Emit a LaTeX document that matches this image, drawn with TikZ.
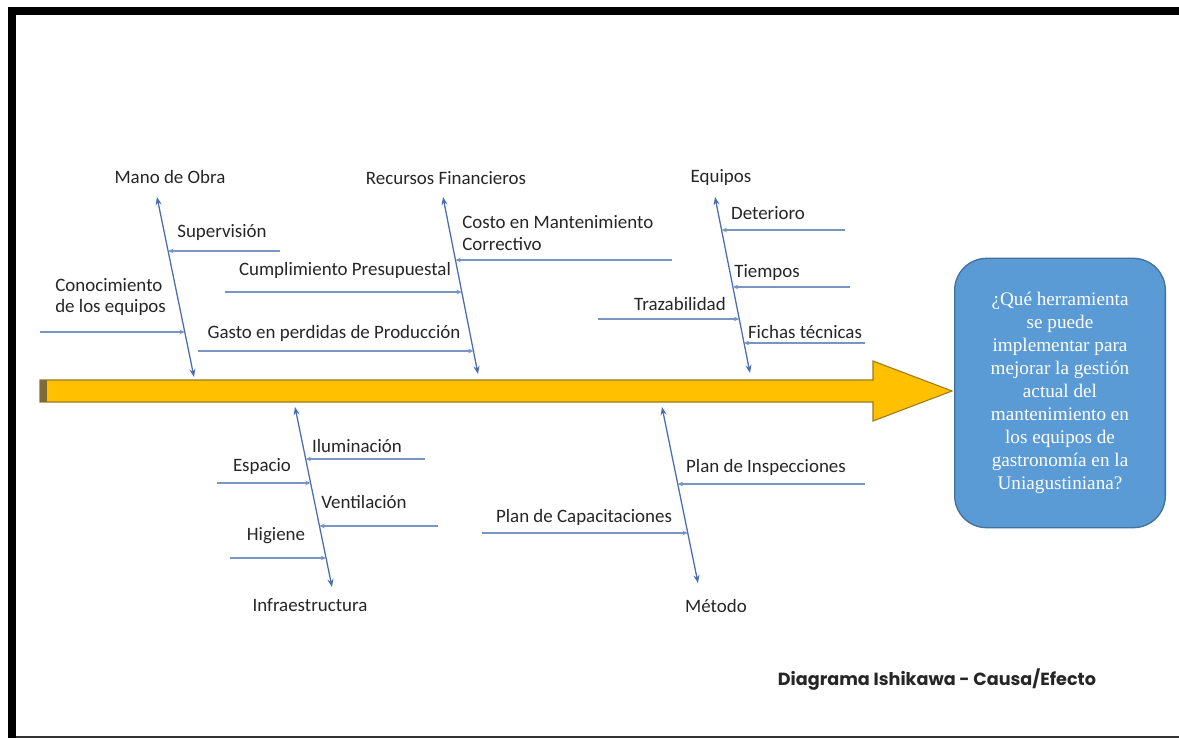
\documentclass[tikz,border=0pt]{standalone}
\usepackage{fontspec}
\setmainfont{Carlito}
\newfontfamily\boxfont{Liberation Serif}
\newfontfamily\titlefont{Poppins}
\usetikzlibrary{arrows.meta,calc}

\definecolor{spinefill}{HTML}{FFC000}
\definecolor{spineedge}{HTML}{9C7A1C}
\definecolor{spinecap}{HTML}{7E6B36}
\definecolor{bonecol}{HTML}{4A6CB0}
\definecolor{subcol}{HTML}{7895C4}
\definecolor{txtcol}{HTML}{262626}
\definecolor{qfill}{HTML}{5B9BD5}
\definecolor{qedge}{HTML}{41719C}

\tikzset{
  lbl/.style={font=\fontsize{14.2}{16}\selectfont, text=txtcol, inner sep=0pt},
  bone/.style={draw=bonecol, line width=0.95pt,
    {Stealth[length=6pt,width=4.5pt]}-{Stealth[length=6pt,width=4.5pt]}},
  sub/.style={draw=subcol, line width=0.8pt, -{Stealth[length=4pt,width=3.5pt]}},
}

\begin{document}
\begin{tikzpicture}[x=0.75pt,y=-0.75pt]
\useasboundingbox (0,0) rectangle (1179,738);
\fill[white] (0,0) rectangle (1179,738);

% frame
\fill[black] (8,7) rectangle (1179,15);
\fill[black] (8,7) rectangle (16,738);
\fill[black!80] (16,735.5) rectangle (1179,738);

% spine arrow
\filldraw[fill=spinefill, draw=spineedge, line width=0.8pt]
  (40,380) -- (873,380) -- (873,361) -- (952,391) -- (873,421) -- (873,402) -- (40,402) -- cycle;
\fill[spinecap] (40,380.4) rectangle (47,401.6);

% effect box
\node[draw=qedge, line width=1pt, fill=qfill, rounded corners=24pt,
      minimum width=158pt, minimum height=202pt, inner sep=0pt,
      text=white, align=center,
      font=\boxfont\fontsize{14.4}{17.25}\selectfont] (effect) at (1060,393)
  {¿Qué herramienta\\se puede\\implementar para\\mejorar la gestión\\actual del\\mantenimiento en\\los equipos de\\gastronomía en la\\Uniagustiniana?};

% main bones
\coordinate (mTop) at (157,197); \coordinate (mBot) at (194,377);
\coordinate (rTop) at (443,197); \coordinate (rBot) at (478,374);
\coordinate (eTop) at (715,197); \coordinate (eBot) at (750,373);
\coordinate (iTop) at (295,407); \coordinate (iBot) at (332,587);
\coordinate (dTop) at (662,407); \coordinate (dBot) at (698,583);

\draw[bone] (mTop) -- (mBot);
\draw[bone] (rTop) -- (rBot);
\draw[bone] (eTop) -- (eBot);
\draw[bone] (iTop) -- (iBot);
\draw[bone] (dTop) -- (dBot);

% category labels
\node[lbl] (manoObra) at (170,177) {Mano de Obra};
\node[lbl] (recursos) at (446,178) {Recursos Financieros};
\node[lbl] (equipos) at (721,178) {Equipos};
\node[lbl] (infra) at (310,605) {Infraestructura};
\node[lbl] (metodo) at (716,606) {Método};

% Mano de Obra
\coordinate (supA) at (280,251); \coordinate (supB) at (168.1,251);
\draw[sub] (supA) -- (supB);
\node[lbl] (supL) at (222,233) {Supervisión};
\coordinate (conA) at (40,332); \coordinate (conB) at (184.8,332);
\draw[sub] (conA) -- (conB);
\node[lbl, align=left, anchor=west] (conL) at (55,297) {Conocimiento\\de los equipos};

% Recursos Financieros
\coordinate (cosA) at (672,260); \coordinate (cosB) at (455.5,260);
\draw[sub] (cosA) -- (cosB);
\node[lbl, align=left, anchor=west] (cosL) at (462,233) {Costo en Mantenimiento\\Correctivo};
\coordinate (cumA) at (225,292); \coordinate (cumB) at (461.8,292);
\draw[sub] (cumA) -- (cumB);
\node[lbl] (cumL) at (345,270) {Cumplimiento Presupuestal};
\coordinate (gasA) at (198,351); \coordinate (gasB) at (473.4,351);
\draw[sub] (gasA) -- (gasB);
\node[lbl] (gasL) at (334,333) {Gasto en perdidas de Producción};

% Equipos
\coordinate (detA) at (845,230); \coordinate (detB) at (721.6,230);
\draw[sub] (detA) -- (detB);
\node[lbl] (detL) at (768,213) {Deterioro};
\coordinate (tieA) at (850,287); \coordinate (tieB) at (732.9,287);
\draw[sub] (tieA) -- (tieB);
\node[lbl] (tieL) at (767,273) {Tiempos};
\coordinate (traA) at (598,319); \coordinate (traB) at (739.3,319);
\draw[sub] (traA) -- (traB);
\node[lbl] (traL) at (680,304) {Trazabilidad};
\coordinate (ficA) at (865,343); \coordinate (ficB) at (744.0,343);
\draw[sub] (ficA) -- (ficB);
\node[lbl] (ficL) at (805,332) {Fichas técnicas};

% Infraestructura
\coordinate (iluA) at (425,459); \coordinate (iluB) at (305.7,459);
\draw[sub] (iluA) -- (iluB);
\node[lbl] (iluL) at (357,446) {Iluminación};
\coordinate (espA) at (217,483); \coordinate (espB) at (310.6,483);
\draw[sub] (espA) -- (espB);
\node[lbl] (espL) at (262,467) {Espacio};
\coordinate (venA) at (438,526); \coordinate (venB) at (319.5,526);
\draw[sub] (venA) -- (venB);
\node[lbl] (venL) at (364,502) {Ventilación};
\coordinate (higA) at (230,558); \coordinate (higB) at (326.0,558);
\draw[sub] (higA) -- (higB);
\node[lbl] (higL) at (276,536) {Higiene};

% Método
\coordinate (insA) at (865,484); \coordinate (insB) at (677.7,484);
\draw[sub] (insA) -- (insB);
\node[lbl] (insL) at (766,467) {Plan de Inspecciones};
\coordinate (capA) at (482,533); \coordinate (capB) at (687.8,533);
\draw[sub] (capA) -- (capB);
\node[lbl] (capL) at (584,517) {Plan de Capacitaciones};

% title
\node[inner sep=0pt, text=txtcol] (title) at (937,680)
  {\titlefont\bfseries\fontsize{13.2}{15}\selectfont Diagrama Ishikawa - Causa/Efecto};
\end{tikzpicture}
\end{document}
